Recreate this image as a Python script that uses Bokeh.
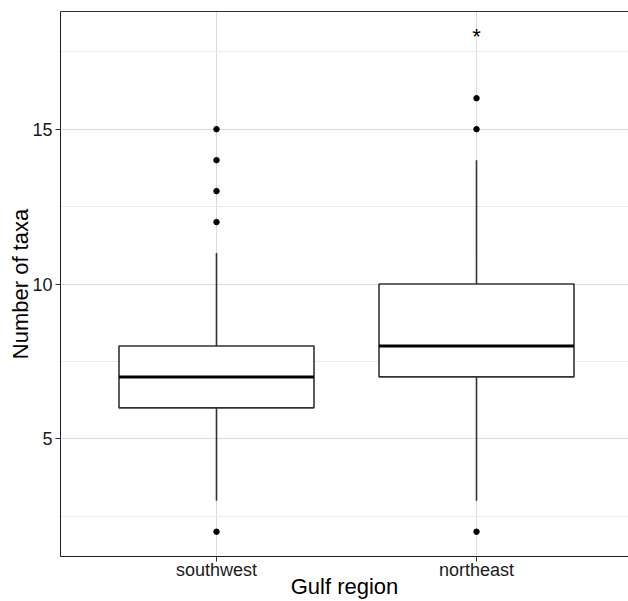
from bokeh.plotting import figure
from bokeh.models import Range1d, FixedTicker, LinearAxis
from bokeh.core.properties import value
from bokeh.embed import file_html
from bokeh.resources import INLINE

# ---- data ----
categories = ["southwest", "northeast"]
q1 = [6, 7]
median = [7, 8]
q3 = [8, 10]
whisker_low = [3, 3]
whisker_high = [11, 14]
outliers = {"southwest": [2, 12, 13, 14, 15], "northeast": [2, 15, 16]}
y_ticks = [5, 10, 15]
y_minor = [2.5, 7.5, 12.5, 17.5]
signif_category = "northeast"
signif_label = "*"
signif_y = 18

FONT = "Liberation Sans"
pos = {c: i + 1 for i, c in enumerate(categories)}
xs = [pos[c] for c in categories]
box_w = 0.75

p = figure(width=628, height=601, output_backend="svg", toolbar_location=None,
           x_range=Range1d(0.4, 2.5846), y_range=Range1d(1.2, 18.8),
           min_border_left=60, min_border_right=0, min_border_top=11, min_border_bottom=45,
           background_fill_color="white", border_fill_color="white")
p.outline_line_color = None

# grids
p.xgrid.ticker = FixedTicker(ticks=xs)
p.xgrid.grid_line_color = "#DADADA"
p.ygrid.ticker = FixedTicker(ticks=y_ticks, minor_ticks=y_minor)
p.ygrid.grid_line_color = "#DADADA"
p.ygrid.minor_grid_line_color = "#EBEBEB"

# axes
for ax in (p.xaxis[0], p.yaxis[0]):
    ax.axis_line_color = "#1A1A1A"
    ax.major_tick_line_color = "#333333"
    ax.major_tick_out = 5
    ax.major_tick_in = 0
    ax.minor_tick_out = 0
    ax.minor_tick_in = 0
    ax.major_label_text_font = FONT
    ax.major_label_text_font_size = "18px"
    ax.major_label_text_color = "#1A1A1A"
    ax.axis_label_text_font = FONT
    ax.axis_label_text_font_size = "22px"
    ax.axis_label_text_font_style = "normal"
    ax.axis_label_text_color = "black"

p.xaxis.ticker = FixedTicker(ticks=xs)
p.xaxis.major_label_overrides = {pos[c]: c for c in categories}
p.xaxis.axis_label = "Gulf region"
p.xaxis.major_label_standoff = -2
p.xaxis.axis_label_standoff = -9

p.yaxis.ticker = FixedTicker(ticks=y_ticks)
p.yaxis.axis_label = "Number of taxa"
p.yaxis.major_label_standoff = 3
p.yaxis.axis_label_standoff = -4

top_axis = LinearAxis(ticker=FixedTicker(ticks=[]), axis_line_color="#333333",
                      major_tick_out=0, major_tick_in=0, minor_tick_out=0, minor_tick_in=0,
                      major_label_text_font_size="0px")
p.add_layout(top_axis, "above")

# whiskers
p.segment(x0=xs, x1=xs, y0=q3, y1=whisker_high, line_color="#333333", line_width=1.6)
p.segment(x0=xs, x1=xs, y0=whisker_low, y1=q1, line_color="#333333", line_width=1.6)

# boxes
p.vbar(x=xs, width=box_w, bottom=q1, top=q3, fill_color="white",
       line_color="#333333", line_width=1.6)
# medians
p.segment(x0=[x - box_w / 2 for x in xs], x1=[x + box_w / 2 for x in xs],
          y0=median, y1=median, line_color="black", line_width=3)

# outliers
ox, oy = [], []
for c in categories:
    for v in outliers[c]:
        ox.append(pos[c])
        oy.append(v)
p.scatter(x=ox, y=oy, size=5.5, color="black")

# significance marker
p.text(x=[pos[signif_category]], y=[signif_y], text=[signif_label],
       text_font=value(FONT), text_font_size="22px", text_align="center",
       text_baseline="middle", text_color="black")

open("out.html", "w").write(file_html(p, INLINE))
